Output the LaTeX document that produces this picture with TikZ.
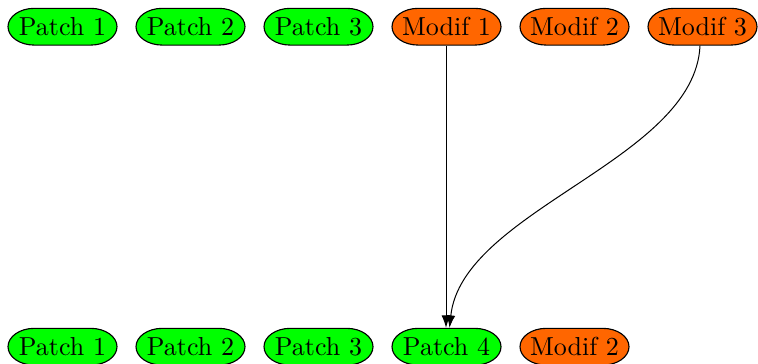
\documentclass[tikz,border=0pt]{standalone}
\usetikzlibrary{arrows.meta}
\definecolor{pgreen}{RGB}{0,255,0}
\definecolor{morange}{RGB}{255,102,0}
\newcommand{\stnode}[5]{%
  \begin{scope}[shift={(#2,#3)}]
    \filldraw[fill=#4,draw=black,line width=0.45pt]
      (-11.3pt,7.35pt) -- (11.3pt,7.35pt)
      arc[start angle=90,end angle=-90,x radius=10.5pt,y radius=7.35pt]
      -- (-11.3pt,-7.35pt)
      arc[start angle=270,end angle=90,x radius=10.5pt,y radius=7.35pt] -- cycle;
  \end{scope}
  \node[txt] (#1) at (#2,#3) {#5};}
\begin{document}
\begin{tikzpicture}[x=0.4pt,y=-0.4pt,
  txt/.style={minimum width=43.6pt,minimum height=14.7pt,inner sep=0pt,font=\fontsize{10.4}{12}\selectfont},
  conn/.style={draw=black,line width=0.4pt,-{Latex[length=5pt,width=3.6pt]}}]
\useasboundingbox (0,0) rectangle (758,363);
\stnode{p1}{62.5}{26.7}{pgreen}{Patch 1}
\stnode{p2}{190.5}{26.7}{pgreen}{Patch 2}
\stnode{p3}{318.5}{26.7}{pgreen}{Patch 3}
\stnode{m1}{446.5}{26.7}{morange}{Modif 1}
\stnode{m2}{574.5}{26.7}{morange}{Modif 2}
\stnode{m3}{702.5}{26.7}{morange}{Modif 3}
\stnode{q1}{62.5}{346.7}{pgreen}{Patch 1}
\stnode{q2}{190.5}{346.7}{pgreen}{Patch 2}
\stnode{q3}{318.5}{346.7}{pgreen}{Patch 3}
\stnode{q4}{446.5}{346.7}{pgreen}{Patch 4}
\stnode{q5}{574.5}{346.7}{morange}{Modif 2}
\draw[conn] ([xshift=-0.2pt]m1.south) -- ([xshift=-0.2pt]q4.north);
\draw[conn] ([xshift=-1pt]m3.south) .. controls (695,160) and (462,210) .. ([xshift=1.2pt]q4.north);
\end{tikzpicture}
\end{document}
